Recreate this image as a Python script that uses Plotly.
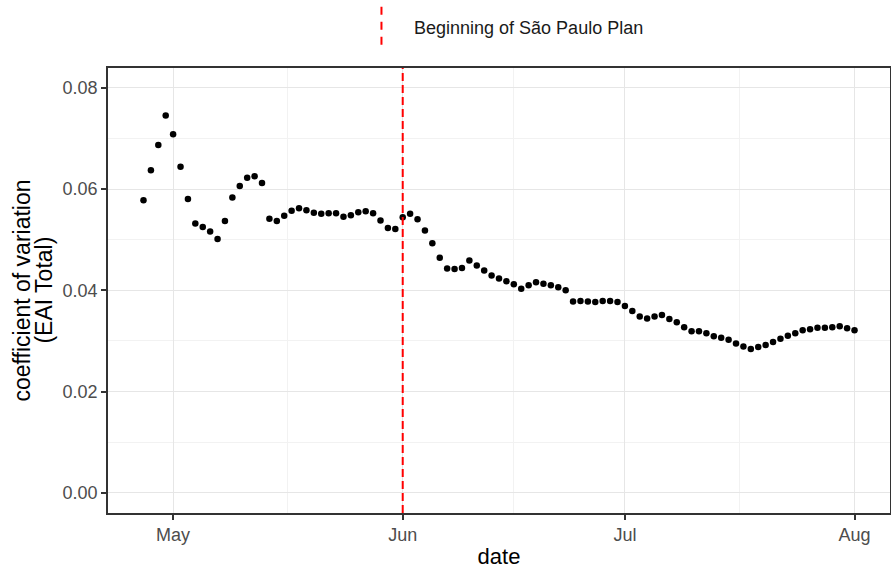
import plotly.graph_objects as go
import pandas as pd

# Daily coefficient of variation (EAI Total), 2020-04-27 .. 2020-08-01
start_date = "2020-04-27"
cv_values = [
    0.0578, 0.0637, 0.0687, 0.0745, 0.0708, 0.0644, 0.0580, 0.0532, 0.0525, 0.0516,
    0.0501, 0.0537, 0.0583, 0.0606, 0.0622, 0.0625, 0.0612, 0.0541, 0.0537, 0.0547,
    0.0557, 0.0562, 0.0558, 0.0553, 0.0551, 0.0552, 0.0552, 0.0545, 0.0548, 0.0554,
    0.0556, 0.0552, 0.0538, 0.0523, 0.0521, 0.0544, 0.0551, 0.0540, 0.0518, 0.0493,
    0.0464, 0.0443, 0.0442, 0.0444, 0.0459, 0.0449, 0.0439, 0.0429, 0.0423, 0.0418,
    0.0412, 0.0403, 0.0410, 0.0416, 0.0413, 0.0410, 0.0406, 0.0400, 0.0378, 0.0379,
    0.0378, 0.0377, 0.0379, 0.0379, 0.0377, 0.0369, 0.0359, 0.0348, 0.0344, 0.0348,
    0.0351, 0.0343, 0.0337, 0.0327, 0.0319, 0.0319, 0.0315, 0.0309, 0.0306, 0.0302,
    0.0295, 0.0289, 0.0284, 0.0288, 0.0292, 0.0298, 0.0304, 0.0310, 0.0315, 0.0321,
    0.0323, 0.0326, 0.0326, 0.0327, 0.0329, 0.0325, 0.0321,
]
dates = pd.date_range(start_date, periods=len(cv_values), freq="D")

plan_start = "2020-06-01"
legend_label = "Beginning of São Paulo Plan"
y_title_lines = ["coefficient of variation", "(EAI Total)"]
x_title = "date"

x_tick_vals = ["2020-05-01", "2020-06-01", "2020-07-01", "2020-08-01"]
x_tick_text = ["May", "Jun", "Jul", "Aug"]
x_minor_vals = ["2020-05-16 12:00", "2020-06-16", "2020-07-16 12:00"]
y_tick_vals = [0.00, 0.02, 0.04, 0.06, 0.08]
y_tick_text = ["0.00", "0.02", "0.04", "0.06", "0.08"]
y_minor_vals = [0.01, 0.03, 0.05, 0.07]

x_range = ["2020-04-22 05:00", "2020-08-05 19:00"]
y_range = [-0.004, 0.0839]

FONT = "Liberation Sans, Arial, sans-serif"

fig = go.Figure()
fig.add_trace(go.Scatter(
    x=dates, y=cv_values, mode="markers",
    marker=dict(color="black", size=6.5),
    showlegend=False, hoverinfo="x+y",
))

# vertical dashed line at plan start
fig.add_shape(type="line", xref="x", yref="paper",
              x0=plan_start, x1=plan_start, y0=0, y1=1,
              line=dict(color="#FF0000", width=2, dash="8px,4px"))

# legend key (vertical dashed segment) + label
fig.add_shape(type="line", xref="paper", yref="paper",
              x0=0.3497, x1=0.3497, y0=1.052, y1=1.138,
              line=dict(color="#FF0000", width=2, dash="8px,7px"))
fig.add_annotation(xref="paper", yref="paper", x=0.3885, y=1.0899,
                   text=legend_label, showarrow=False,
                   xanchor="left", yanchor="middle",
                   font=dict(family=FONT, size=18, color="#1a1a1a"))

# y-axis title (two lines, tight spacing like the reference)
fig.add_annotation(xref="paper", yref="paper", x=-0.110, y=0.500,
                   text=y_title_lines[0], showarrow=False, textangle=-90,
                   xanchor="center", yanchor="middle",
                   font=dict(family=FONT, size=23, color="black"))
fig.add_annotation(xref="paper", yref="paper", x=-0.083, y=0.500,
                   text=y_title_lines[1], showarrow=False, textangle=-90,
                   xanchor="center", yanchor="middle",
                   font=dict(family=FONT, size=23, color="black"))

axis_common = dict(
    showline=True, linecolor="#333333", linewidth=1.5, mirror=True,
    ticks="outside", ticklen=5, tickwidth=1.5, tickcolor="#333333",
    showgrid=True, gridcolor="#E6E6E6", gridwidth=1,
    zeroline=False,
    tickfont=dict(family=FONT, size=18, color="#4D4D4D"),
)

fig.update_xaxes(
    **axis_common,
    type="date", range=x_range,
    tickmode="array", tickvals=x_tick_vals, ticktext=x_tick_text,
    minor=dict(tickmode="array", tickvals=x_minor_vals, showgrid=True,
               gridcolor="#F2F2F2", gridwidth=1, ticks=""),
    title=dict(text=x_title, font=dict(family=FONT, size=22, color="black"), standoff=5),
)
fig.update_yaxes(
    **axis_common,
    range=y_range,
    tickmode="array", tickvals=y_tick_vals, ticktext=y_tick_text,
    minor=dict(tickmode="array", tickvals=y_minor_vals, showgrid=True,
               gridcolor="#F2F2F2", gridwidth=1, ticks=""),
)

fig.update_layout(
    width=891, height=569,
    margin=dict(l=108, r=1, t=68, b=56, autoexpand=False),
    paper_bgcolor="white", plot_bgcolor="white",
    showlegend=False,
    font=dict(family=FONT),
)

fig.write_html("out.html", config={"displayModeBar": False},
               post_script="document.body.style.margin='0px';document.body.style.overflow='hidden';")
